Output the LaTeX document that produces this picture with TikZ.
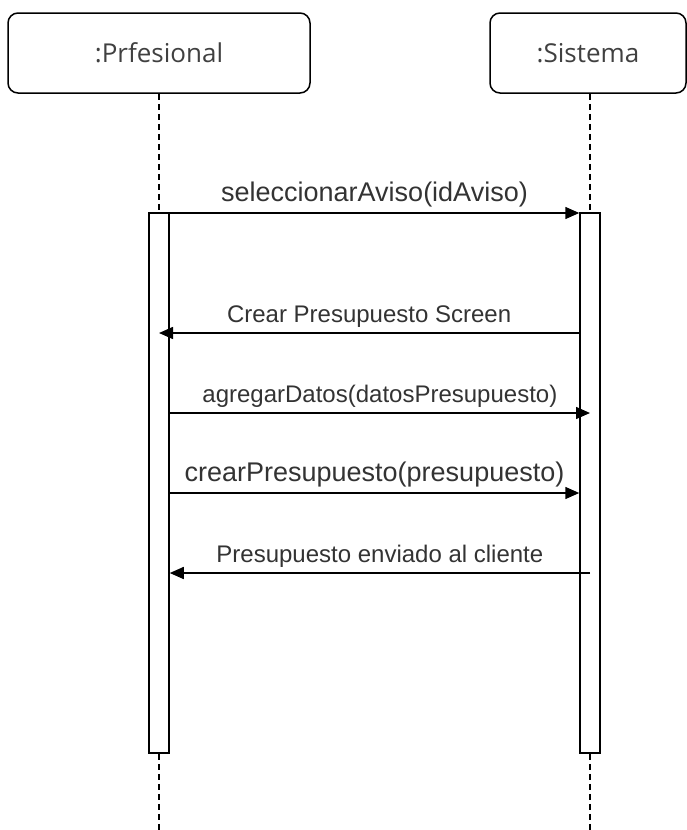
\documentclass[tikz,border=0pt]{standalone}
\usepackage{fontspec}
\setmainfont{Liberation Sans}
\newfontfamily\headfont{Open Sans}
\usetikzlibrary{arrows.meta}
\tikzset{
  actor/.style    = {shape=rectangle, rounded corners=10pt,
                     draw, line width=1.5pt, minimum height=80pt,
                     text=black!75, font=\headfont\fontsize{26}{30}\selectfont},
  bar/.style      = {shape=rectangle, draw, fill=white, line width=1.5pt,
                     minimum width=20pt, minimum height=540pt},
  lifeline/.style = {draw, line width=1.5pt, dash pattern=on 6pt off 4pt},
  msg/.style      = {draw, line width=1.5pt, -{Triangle[length=14pt,width=12pt]}},
  lbl/.style      = {text=black!80, inner sep=0pt},
  msgbig/.style   = {lbl, font=\fontsize{27}{32}\selectfont},
  msgsmall/.style = {lbl, font=\fontsize{24}{28}\selectfont}
}

\begin{document}
\begin{tikzpicture}
  [
    x = 1pt,
    y = -1pt
  ]
  \useasboundingbox (0,0) rectangle (686,830);
  \node [actor, minimum width=302pt] (prof) at (159,53) {:Prfesional};
  \node [actor, minimum width=196pt] (sis) at (588,53) {:Sistema};
  \node [bar] (bar1) at (159,483) {};
  \node [bar] (bar2) at (590,483) {};
  \coordinate (end1) at (159,830);
  \coordinate (end2) at (590,830);
  \draw [lifeline] (prof.south) -- (bar1.north);
  \draw [lifeline] (sis.south -| bar2.north) -- (bar2.north);
  \draw [lifeline] (bar1.south) -- (end1);
  \draw [lifeline] (bar2.south) -- (end2);
  \coordinate (m1) at (0,213);
  \coordinate (m2) at (0,333);
  \coordinate (m3) at (0,413);
  \coordinate (m4) at (0,493);
  \coordinate (m5) at (0,573);
  \draw [msg] (bar1.east |- m1) -- (bar2.west |- m1)
    node [midway, above=5pt, msgbig] {seleccionarAviso(idAviso)};
  \draw [msg] (bar2.west |- m2) -- (bar1.center |- m2)
    node [midway, above=5pt, msgsmall] {Crear Presupuesto Screen};
  \draw [msg] (bar1.east |- m3) -- (bar2.center |- m3)
    node [midway, above=5pt, msgsmall] {agregarDatos(datosPresupuesto)};
  \draw [msg] (bar1.east |- m4) -- (bar2.west |- m4)
    node [midway, above=5pt, msgbig] {crearPresupuesto(presupuesto)};
  \draw [msg] (bar2.center |- m5) -- (bar1.east |- m5)
    node [midway, above=5pt, msgsmall] {Presupuesto enviado al cliente};
\end{tikzpicture}
\end{document}
